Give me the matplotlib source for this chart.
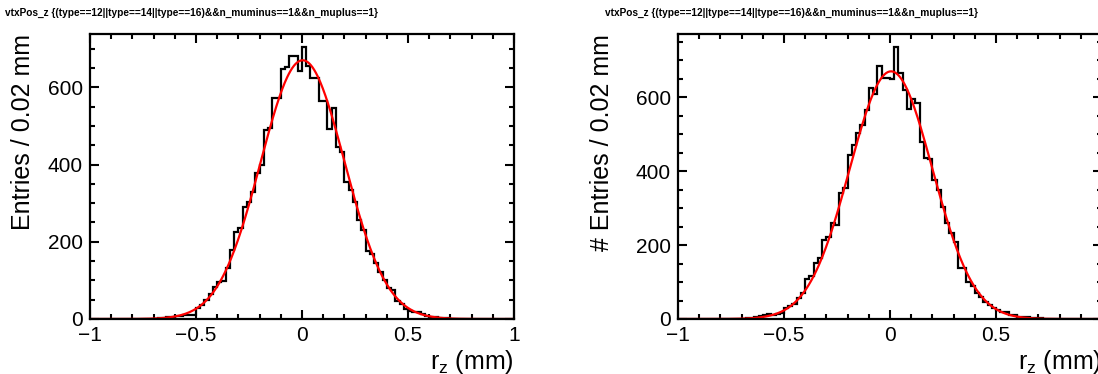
import numpy as np
import matplotlib
matplotlib.use("Agg")
import matplotlib.pyplot as plt
from matplotlib.ticker import MultipleLocator

plt.rcParams['font.family'] = ['Liberation Sans', 'DejaVu Sans']
plt.rcParams['mathtext.fontset'] = 'custom'
plt.rcParams['mathtext.rm'] = 'Liberation Sans'
plt.rcParams['mathtext.it'] = 'Liberation Sans:italic'

# histogramas: 100 bins de -1 a 1 mm (0.02 mm por bin)
x_lo, x_hi = -1.0, 1.0

contagens_esq = [
    0, 0, 0, 0, 0, 0, 0, 0, 0, 0,
    0, 1, 0, 0, 1, 1, 2, 3, 4, 6,
    8, 9, 10, 11, 10, 28, 35, 50, 66, 84,
    95, 98, 131, 179, 226, 235, 291, 302, 330, 379,
    399, 490, 494, 572, 572, 647, 652, 681, 681, 641,
    705, 655, 623, 623, 565, 565, 491, 546, 446, 433,
    356, 334, 304, 256, 230, 176, 168, 144, 122, 100,
    80, 76, 46, 40, 25, 22, 19, 17, 12, 9,
    6, 5, 3, 3, 2, 1, 1, 0, 1, 0,
    0, 0, 0, 0, 0, 0, 0, 0, 0, 0,
]

contagens_dir = [
    0, 0, 0, 0, 0, 0, 0, 0, 0, 0,
    0, 0, 1, 0, 1, 1, 2, 4, 6, 8,
    10, 14, 11, 13, 15, 30, 34, 41, 56, 69,
    107, 115, 151, 164, 214, 223, 259, 254, 340, 354,
    444, 471, 504, 525, 566, 626, 610, 685, 651, 651,
    648, 735, 665, 620, 567, 595, 584, 480, 435, 432,
    376, 349, 304, 259, 232, 209, 137, 137, 101, 88,
    69, 60, 45, 38, 30, 24, 20, 18, 11, 10,
    6, 6, 5, 3, 2, 2, 1, 1, 0, 0,
    0, 0, 0, 0, 0, 0, 0, 0, 0, 0,
]

# parametros do ajuste gaussiano (constante, media, sigma)
ajuste_esq = (670, 0.003, 0.198)
ajuste_dir = (670, 0.005, 0.195)

titulo = "vtxPos_z {(type==12||type==14||type==16)&&n_muminus==1&&n_muplus==1}"
ylabel_esq = "Entries / 0.02 mm"
ylabel_dir = "# Entries / 0.02 mm"
xlabel = r"r$_{\mathrm{z}}$ (mm)"


def rotulo_x(v, pos):
    return f"{v:g}".replace('-', '\u2212')


def desenhar_painel(fig, rect, contagens, ajuste, ylabel, ymax, ultimo_rotulo=True):
    ax = fig.add_axes(rect)
    bordas = np.linspace(x_lo, x_hi, len(contagens) + 1)
    ax.stairs(contagens, bordas, color='black', lw=1.6)

    xs = np.linspace(x_lo, x_hi, 500)
    amp, mu, sig = ajuste
    ax.plot(xs, amp * np.exp(-0.5 * ((xs - mu) / sig) ** 2), color='red', lw=1.6)

    ax.set_xlim(x_lo, x_hi)
    ax.set_ylim(0, ymax)
    ax.xaxis.set_major_locator(MultipleLocator(0.5))
    ax.xaxis.set_minor_locator(MultipleLocator(0.1))
    ax.yaxis.set_major_locator(MultipleLocator(200))
    ax.yaxis.set_minor_locator(MultipleLocator(50))
    if ultimo_rotulo:
        ax.xaxis.set_major_formatter(rotulo_x)
    else:
        # o painel da direita fica cortado na borda, sem o rotulo "1"
        ax.xaxis.set_major_formatter(lambda v, p: "" if v > 0.9 else rotulo_x(v, p))

    ax.tick_params(which='both', direction='in', top=True, right=True,
                   width=1.5, labelsize=15)
    ax.tick_params(which='major', length=6.5)
    ax.tick_params(which='minor', length=3.3)
    ax.tick_params(axis='x', pad=5)
    ax.tick_params(axis='y', pad=5)
    for s in ax.spines.values():
        s.set_linewidth(1.6)

    ax.set_ylabel(ylabel, fontsize=18, loc='top')
    ax.yaxis.set_label_coords(-0.13, 1.0)
    ax.set_xlabel(xlabel, fontsize=18, loc='right')
    ax.xaxis.set_label_coords(1.0, -0.1)
    return ax


fig = plt.figure(figsize=(10.98, 3.74), dpi=100)

W, H = 1098.0, 374.0
larg = 424 / W
alt = 285 / H
base = (H - 319) / H

desenhar_painel(fig, [90 / W, base, larg, alt], contagens_esq, ajuste_esq, ylabel_esq, 738)
ax_dir = desenhar_painel(fig, [678 / W, base, larg, alt], contagens_dir, ajuste_dir,
                         ylabel_dir, 771, ultimo_rotulo=False)
ax_dir.yaxis.set_label_coords(-0.15, 1.0)

fig.text(5 / W, 1 - 12.5 / H, titulo, fontsize=7.3, weight='bold', va='center')
fig.text(605 / W, 1 - 12.5 / H, titulo, fontsize=7.3, weight='bold', va='center')

fig.savefig("out.png", dpi=100)
